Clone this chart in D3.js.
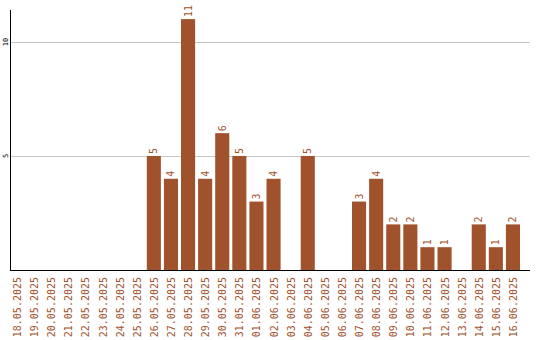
<!DOCTYPE html>
<html>
<head>
<meta charset="utf-8">
<script src="https://cdn.jsdelivr.net/npm/d3@7"></script>
<style>
  body { margin: 0; background: #fff; }
  svg { display: block; }
</style>
</head>
<body>
<div id="chart"></div>
<script>
// data
const dates = ["18.05.2025","19.05.2025","20.05.2025","21.05.2025","22.05.2025","23.05.2025",
  "24.05.2025","25.05.2025","26.05.2025","27.05.2025","28.05.2025","29.05.2025","30.05.2025",
  "31.05.2025","01.06.2025","02.06.2025","03.06.2025","04.06.2025","05.06.2025","06.06.2025",
  "07.06.2025","08.06.2025","09.06.2025","10.06.2025","11.06.2025","12.06.2025","13.06.2025",
  "14.06.2025","15.06.2025","16.06.2025"];
const counts = [0,0,0,0,0,0,0,0,5,4,11,4,6,5,3,4,0,5,0,0,3,4,2,2,1,1,0,2,1,2];
const yTicks = [5, 10];

const width = 540, height = 340;
const margin = { top: 10, left: 10, bottom: 70, right: 10 };
const color = "#a0522d";

const svg = d3.select("#chart").append("svg")
  .attr("width", width)
  .attr("height", height);

const x = d3.scaleBand()
  .domain(dates)
  .range([margin.left, margin.left + dates.length * 17])
  .paddingInner(3 / 17)
  .paddingOuter(0)
  .align(0);

const y = d3.scaleLinear()
  .domain([0, 11.4])
  .range([height - margin.bottom, margin.top]);

// gridlines
svg.append("g")
  .selectAll("line")
  .data(yTicks)
  .join("line")
  .attr("x1", margin.left)
  .attr("x2", width - margin.right)
  .attr("y1", d => Math.round(y(d)) + 0.5)
  .attr("y2", d => Math.round(y(d)) + 0.5)
  .attr("stroke", "#c8c8c8")
  .attr("stroke-width", 1);

// y tick labels (rotated)
svg.append("g")
  .selectAll("text")
  .data(yTicks)
  .join("text")
  .attr("transform", d => `translate(7.5, ${y(d)}) rotate(-90)`)
  .attr("text-anchor", "middle")
  .attr("font-family", "DejaVu Sans Mono, monospace")
  .attr("font-size", 7)
  .attr("fill", "#000")
  .text(d => d);

// bars
svg.append("g")
  .selectAll("rect")
  .data(counts)
  .join("rect")
  .attr("x", (d, i) => x(dates[i]))
  .attr("y", d => y(d))
  .attr("width", x.bandwidth())
  .attr("height", d => y(0) - y(d))
  .attr("fill", color);

// value labels
svg.append("g")
  .selectAll("text")
  .data(counts.map((v, i) => ({ v, i })).filter(d => d.v > 0))
  .join("text")
  .attr("transform", d => `translate(${x(dates[d.i]) + x.bandwidth() / 2 + 3.5}, ${y(d.v) - 2}) rotate(-90)`)
  .attr("text-anchor", "start")
  .attr("font-family", "DejaVu Sans Mono, monospace")
  .attr("font-size", 10)
  .attr("fill", color)
  .text(d => d.v);

// axes lines
svg.append("line")
  .attr("x1", margin.left + 0.5).attr("x2", margin.left + 0.5)
  .attr("y1", margin.top).attr("y2", y(0))
  .attr("stroke", "#000");
svg.append("line")
  .attr("x1", margin.left).attr("x2", width - margin.right)
  .attr("y1", y(0) + 0.5).attr("y2", y(0) + 0.5)
  .attr("stroke", "#000");

// x labels
svg.append("g")
  .selectAll("text")
  .data(dates)
  .join("text")
  .attr("transform", d => `translate(${x(d) + x.bandwidth() / 2 + 4}, ${y(0) + 7}) rotate(-90)`)
  .attr("text-anchor", "end")
  .attr("font-family", "DejaVu Sans Mono, monospace")
  .attr("font-size", 10)
  .attr("fill", color)
  .text(d => d);
</script>
</body>
</html>
